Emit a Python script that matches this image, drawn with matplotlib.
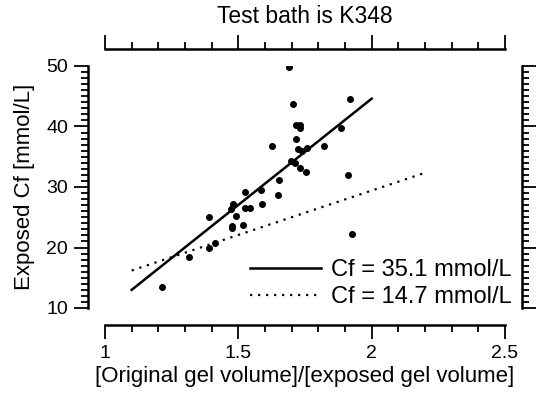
import matplotlib
matplotlib.use('Agg')
import numpy as np
import matplotlib.pyplot as plt
from matplotlib.ticker import MultipleLocator

plt.rcParams['font.family'] = ['Liberation Sans', 'DejaVu Sans']

# measured points: gel volume ratio vs exposed Cf
ratio = [1.690, 1.705, 1.918, 1.718, 1.733, 1.730, 1.718, 1.627, 1.821, 1.884,
         1.724, 1.740, 1.759, 1.699, 1.712, 1.733, 1.752, 1.911, 1.652, 1.524,
         1.584, 1.647, 1.481, 1.472, 1.524, 1.543, 1.589, 1.391, 1.491, 1.518,
         1.476, 1.478, 1.390, 1.412, 1.315, 1.215, 1.927]
cf = [49.8, 43.7, 44.5, 40.2, 40.2, 39.7, 37.9, 36.8, 36.8, 39.7,
      36.2, 36.0, 36.4, 34.3, 33.9, 33.1, 32.5, 32.0, 31.2, 29.2,
      29.5, 28.7, 27.2, 26.3, 26.6, 26.6, 27.2, 25.0, 25.2, 23.8,
      23.6, 23.2, 20.0, 20.7, 18.4, 13.5, 22.2]

# model lines (end points)
fit_x = [1.10, 2.00]
fit_y = [13.0, 44.6]
low_x = [1.10, 2.19]
low_y = [16.2, 32.2]
labels = ['Cf = 35.1 mmol/L', 'Cf = 14.7 mmol/L']

fig = plt.figure(figsize=(5.37, 4.04), dpi=100)
ax = fig.add_axes([105/537, 1-308/404, 400/537, 242/404])

ax.plot(ratio, cf, 'o', color='black', markersize=4, zorder=3)
ax.plot(fit_x, fit_y, color='black', linewidth=1.8, label=labels[0])
ax.plot(low_x, low_y, color='black', linewidth=1.6,
        linestyle=(0, (1, 2.6)), label=labels[1])

ax.set_xlim(1, 2.5)
ax.set_ylim(10, 50)

# detached spines on all four sides
for side in ['left', 'right', 'top', 'bottom']:
    ax.spines[side].set_position(('outward', 12.5))
    ax.spines[side].set_linewidth(1.8)

ax.xaxis.set_major_locator(MultipleLocator(0.5))
ax.xaxis.set_minor_locator(MultipleLocator(0.1))
ax.yaxis.set_major_locator(MultipleLocator(10))
ax.yaxis.set_minor_locator(MultipleLocator(1))
ax.set_xticks([1, 1.5, 2, 2.5])
ax.set_xticklabels(['1', '1.5', '2', '2.5'])

ax.tick_params(which='both', direction='out', top=True, right=True,
               labeltop=False, labelright=False, labelsize=14, width=1.3)
ax.tick_params(which='major', length=10, pad=4)
ax.tick_params(which='minor', length=5)

ax.set_xlabel('[Original gel volume]/[exposed gel volume]', fontsize=16, labelpad=3)
ax.set_ylabel('Exposed Cf [mmol/L]', fontsize=16, labelpad=8)
ax.set_title('Test bath is K348', fontsize=16.5, pad=31)

ax.legend(loc='lower right', bbox_to_anchor=(1.018, 0.0), frameon=False,
          fontsize=17, handlelength=3.0, handletextpad=0.43, labelspacing=0.2,
          borderpad=0, borderaxespad=0)

fig.savefig('out.png', dpi=100)
